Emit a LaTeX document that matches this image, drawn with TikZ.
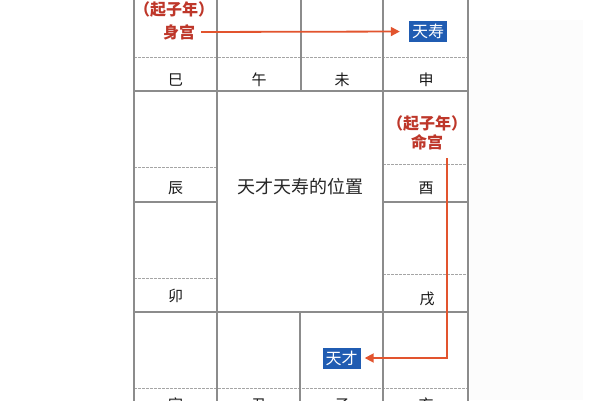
\documentclass[tikz,border=0pt]{standalone}
\usepackage{fontspec}
\setmainfont{Noto Sans CJK SC}
\usetikzlibrary{arrows.meta}
\definecolor{gridgray}{RGB}{140,140,140}
\definecolor{dashgray}{RGB}{165,165,165}
\definecolor{redtxt}{RGB}{190,55,42}
\definecolor{redarrow}{RGB}{226,84,46}
\definecolor{boxblue}{RGB}{32,92,178}
\tikzset{
  gridline/.style={draw=gridgray,line width=1.2pt},
  dashline/.style={draw=dashgray,line width=0.9pt,dash pattern=on 2.5pt off 1.5pt},
  branch/.style={font=\fontsize{15}{15}\selectfont,text=black!90,inner sep=0pt},
  redlabel/.style={font=\bfseries\fontsize{16}{19}\selectfont,text=redtxt,align=center,inner sep=0pt},
  starbox/.style={fill=boxblue,text=white,font=\fontsize{16}{16}\selectfont,inner xsep=3pt,inner ysep=2pt,minimum height=21pt},
  redarrow/.style={draw=redarrow,line width=1.8pt,-{Triangle[length=9pt,width=9pt]}},
}
\begin{document}
\begin{tikzpicture}[x=1pt,y=-1pt]
\useasboundingbox (0,0) rectangle (600,400);
\fill[white] (0,0) rectangle (600,400);
\begin{scope}
\clip (0,0) rectangle (600,400);
\fill[black!1] (470,20) rectangle (583,400);
% dashed lines
\draw[dashline] (134,57) -- (468,57);
\draw[dashline] (134,167) -- (217,167);
\draw[dashline] (383,164) -- (468,164);
\draw[dashline] (134,278) -- (217,278);
\draw[dashline] (383,274) -- (468,274);
\draw[dashline] (134,388) -- (468,388);
% solid lines
\draw[gridline] (134,-20) -- (134,423);
\draw[gridline] (468,-20) -- (468,423);
\draw[gridline] (217,-20) -- (217,423);
\draw[gridline] (383,-20) -- (383,423);
\draw[gridline] (301,-20) -- (301,91);
\draw[gridline] (300,312) -- (300,423);
\draw[gridline] (134,91) -- (468,91);
\draw[gridline] (134,202) -- (217,202);
\draw[gridline] (383,202) -- (468,202);
\draw[gridline] (134,312) -- (468,312);
% branch labels
\node[branch] (si) at (175.5,80) {巳};
\node[branch] (wu) at (259,80) {午};
\node[branch] (wei) at (342,80) {未};
\node[branch] (shen) at (426,80) {申};
\node[branch] (chen) at (175.5,188) {辰};
\node[branch] (you) at (426,188) {酉};
\node[branch] (mao) at (175.5,296) {卯};
\node[branch] (xu) at (427,299) {戌};
\node[branch] (yin) at (175.5,405) {寅};
\node[branch] (chou) at (259,405) {丑};
\node[branch] (zi) at (342,405) {子};
\node[branch] (hai) at (426,405) {亥};
% center title
\node[font=\fontsize{18}{18}\selectfont,text=black!85,inner sep=0pt] (title) at (300,187) {天才天寿的位置};
% red labels
\node[redlabel] (qz1) at (174,9) {（起子年）};
\node[redlabel] (shengong) at (179,32) {身宫};
\node[redlabel] (qz2) at (427,123) {（起子年）};
\node[redlabel] (minggong) at (427,142) {命宫};
% blue boxes
\node[starbox] (tianshou) at (428,31.5) {天寿};
\node[starbox] (tiancai) at (341.5,358) {天才};
% arrows
\draw[redarrow,shorten <=6pt,shorten >=9pt] (shengong.east) -- (tianshou.west);
\coordinate (mgstart) at (447,158);
\draw[redarrow,shorten >=4pt] (mgstart) |- (tiancai.east);
\end{scope}
\end{tikzpicture}
\end{document}
